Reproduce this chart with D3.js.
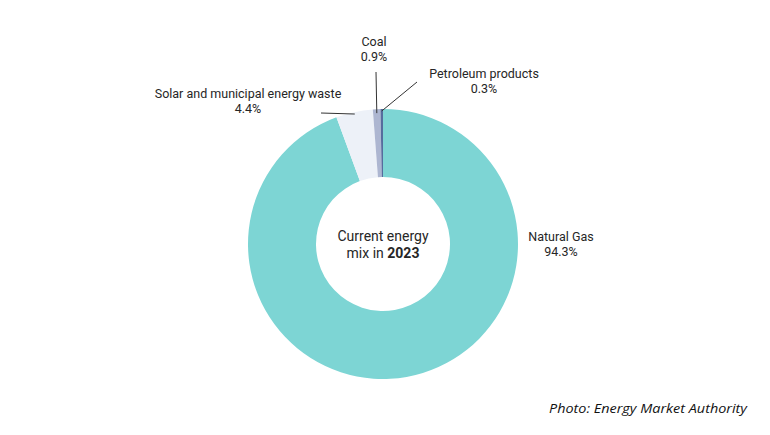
<!DOCTYPE html>
<html>
<head>
<meta charset="utf-8">
<script src="https://cdn.jsdelivr.net/npm/d3@7"></script>
<style>
  html, body { margin: 0; padding: 0; background: #fff; }
  svg text { font-family: Roboto, "Noto Sans", sans-serif; fill: #262626; }
</style>
</head>
<body>
<svg id="chart"></svg>
<script>
// data
const sources = ["Natural Gas", "Solar and municipal energy waste", "Coal", "Petroleum products"];
const shares = [94.3, 4.4, 0.9, 0.3];
const colors = ["#7dd5d4", "#edf1f8", "#adb6d1", "#566c9d"];

const w = 770, h = 435;
const svg = d3.select("#chart").attr("width", w).attr("height", h);

const cx = 383, cy = 244;
const outerR = 135, innerR = 67;

const rows = sources.map((s, i) => ({ source: s, share: shares[i], color: colors[i] }));

const pie = d3.pie()
  .value(d => d.share)
  .sort(null)
  .startAngle(0)
  .endAngle(2 * Math.PI);

const arc = d3.arc().innerRadius(innerR).outerRadius(outerR);

const g = svg.append("g").attr("transform", `translate(${cx},${cy})`);
const arcs = pie(rows);

g.selectAll("path.slice")
  .data(arcs)
  .join("path")
  .attr("class", "slice")
  .attr("d", arc)
  .attr("fill", d => d.data.color);

// label layout (offsets from chart centre), leader end points
const labelPos = {
  "Natural Gas": { x: 178, y: -3, line: null },
  "Solar and municipal energy waste": { x: -135, y: -146, line: [-62, -131] },
  "Coal": { x: -9, y: -198, line: [-7, -172] },
  "Petroleum products": { x: 101, y: -166, line: [34, -162] }
};

arcs.forEach(d => {
  const p = labelPos[d.data.source];
  const mid = (d.startAngle + d.endAngle) / 2;
  if (p.line) {
    const r0 = d.data.source === "Coal" ? outerR - 4 : outerR - 2;
    g.append("line")
      .attr("x1", r0 * Math.sin(mid))
      .attr("y1", -r0 * Math.cos(mid))
      .attr("x2", p.line[0])
      .attr("y2", p.line[1])
      .attr("stroke", "#333")
      .attr("stroke-width", 1);
  }
  const t = g.append("text")
    .attr("x", p.x)
    .attr("y", p.y)
    .attr("text-anchor", "middle")
    .style("font-size", "12.5px");
  t.append("tspan").attr("x", p.x).text(d.data.source);
  t.append("tspan").attr("x", p.x).attr("dy", 15).text(d3.format(".1f")(d.data.share) + "%");
});

// centre text
const ct = g.append("text")
  .attr("text-anchor", "middle")
  .attr("y", -3)
  .style("font-size", "14px");
ct.append("tspan").attr("x", 0).text("Current energy");
const l2 = ct.append("tspan").attr("x", 0).attr("dy", 17);
l2.append("tspan").text("mix in ");
l2.append("tspan").style("font-weight", "bold").text("2023");

// credit
svg.append("text")
  .attr("x", 747)
  .attr("y", 413)
  .attr("text-anchor", "end")
  .attr("textLength", 198)
  .attr("lengthAdjust", "spacingAndGlyphs")
  .style("font-family", "'Open Sans', Lato, sans-serif")
  .style("font-style", "italic")
  .style("font-size", "13px")
  .style("fill", "#111")
  .text("Photo: Energy Market Authority");
</script>
</body>
</html>
